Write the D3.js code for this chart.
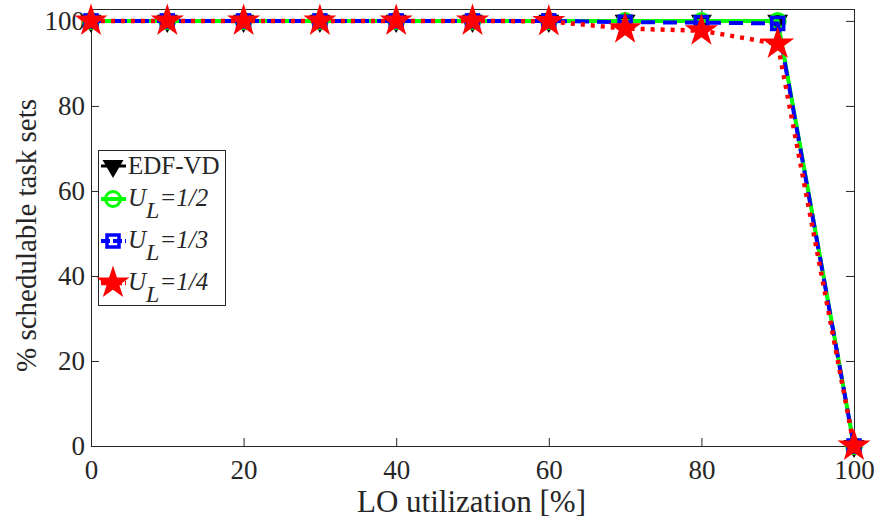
<!DOCTYPE html>
<html><head><meta charset="utf-8">
<script src="https://cdn.jsdelivr.net/npm/d3@7"></script>
<style>body{margin:0;background:#fff}svg{display:block}text{font-family:"Liberation Serif","Times New Roman",serif;fill:#262626}</style>
</head><body><svg id="c" width="879" height="522"></svg>
<script>
const xValues=[0,10,20,30,40,50,60,70,80,90,100];
const edfVD=[100,100,100,100,100,100,100,100,100,100,0];
const uHalf=[100,100,100,100,100,100,100,100,100,100,0];
const uThird=[100,100,100,100,100,100,100,99.7,99.6,99.4,0];
const uQuarter=[100,100,100,100,100,100,99.9,98.2,97.7,94.6,0];
const xTicks=[0,20,40,60,80,100];
const yTicks=[0,20,40,60,80,100];

const svg=d3.select("#c");
const L=91,R=854,T=9,B=446;
const x=d3.scaleLinear().domain([0,100]).range([L,R]);
const y=d3.scaleLinear().domain([0,102.8]).range([B,T]);

const axc="#262626";
const g=svg.append("g");
const styleTicks=s=>{s.select(".domain").attr("stroke",axc);s.selectAll("line").attr("stroke",axc);s.selectAll("text").style("font-size","27px").attr("fill",axc).attr("font-family","Liberation Serif");};
g.append("g").attr("transform",`translate(0,${B})`).call(d3.axisBottom(x).tickValues(xTicks).tickSizeInner(-8).tickSizeOuter(0).tickPadding(14)).call(styleTicks);
g.append("g").attr("transform",`translate(${L},0)`).call(d3.axisLeft(y).tickValues(yTicks).tickSizeInner(-8).tickSizeOuter(0).tickPadding(6)).call(styleTicks);
g.append("g").attr("transform",`translate(0,${T})`).call(d3.axisTop(x).tickValues(xTicks).tickSizeInner(-8).tickSizeOuter(0).tickFormat("")).call(styleTicks);
g.append("g").attr("transform",`translate(${R},0)`).call(d3.axisRight(y).tickValues(yTicks).tickSizeInner(-8).tickSizeOuter(0).tickFormat("")).call(styleTicks);

svg.append("text").attr("x",(L+R)/2-1).attr("y",512).attr("text-anchor","middle").style("font-size","31px").text("LO utilization [%]");
svg.append("text").attr("transform",`translate(36,${(T+B)/2+8}) rotate(-90)`).attr("text-anchor","middle").style("font-size","29px").text("% schedulable task sets");

const line=d3.line().x((d,i)=>x(xValues[i])).y(d=>y(d));
const star=d3.symbol().type(d3.symbolStar).size(340)();
const tri=d3.symbol().type(d3.symbolTriangle).size(190)();
function marker(sel,type){
  if(type==="tri") sel.append("path").attr("d",tri).attr("transform","rotate(180)").attr("fill","#000");
  if(type==="circ") sel.append("circle").attr("r",7.5).attr("fill","none").attr("stroke","#00ff00").attr("stroke-width",3);
  if(type==="sq") sel.append("rect").attr("x",-6).attr("y",-6).attr("width",12).attr("height",12).attr("fill","none").attr("stroke","#0000ff").attr("stroke-width",3.5);
  if(type==="star") sel.append("path").attr("d",star).attr("fill","#ff0000");
}
const series=[
 {name:"EDF-VD",data:edfVD,color:"#000",dash:null,w:3,m:"tri"},
 {name:"U_L=1/2",data:uHalf,color:"#00ff00",dash:null,w:4,m:"circ"},
 {name:"U_L=1/3",data:uThird,color:"#0000ff",dash:"14,8",w:4,m:"sq"},
 {name:"U_L=1/4",data:uQuarter,color:"#ff0000",dash:"4,6",w:4.5,m:"star"}
];
series.forEach(s=>{
  svg.append("path").attr("d",line(s.data)).attr("fill","none").attr("stroke",s.color).attr("stroke-width",s.w).attr("stroke-dasharray",s.dash);
  s.data.forEach((d,i)=>{const mg=svg.append("g").attr("transform",`translate(${x(xValues[i])},${y(d)})`);marker(mg,s.m);});
});

const lg=svg.append("g");
lg.append("rect").attr("x",98.5).attr("y",150.5).attr("width",127).attr("height",155).attr("fill","#fff").attr("stroke","#262626").attr("stroke-width",1);
const rows=[166,199,241,283];
series.forEach((s,i)=>{
  const yy=rows[i];
  lg.append("line").attr("x1",101).attr("x2",126).attr("y1",yy).attr("y2",yy).attr("stroke",s.color).attr("stroke-width",s.w).attr("stroke-dasharray",s.dash?"9,3":null);
  const mg=lg.append("g").attr("transform",`translate(113,${yy})`);marker(mg,s.m);
  if(i===0){
    lg.append("text").attr("x",128).attr("y",yy+8).style("font-size","25px").text("EDF-VD");
  } else {
    const frac=["1/2","1/3","1/4"][i-1];
    const t=lg.append("text").attr("x",128).attr("y",yy+7).style("font-size","25px").style("font-style","italic");
    t.append("tspan").text("U");
    t.append("tspan").attr("dy",12).style("font-size","24px").text("L");
    t.append("tspan").attr("dy",-12).text("=" + frac);
  }
});
</script></body></html>
